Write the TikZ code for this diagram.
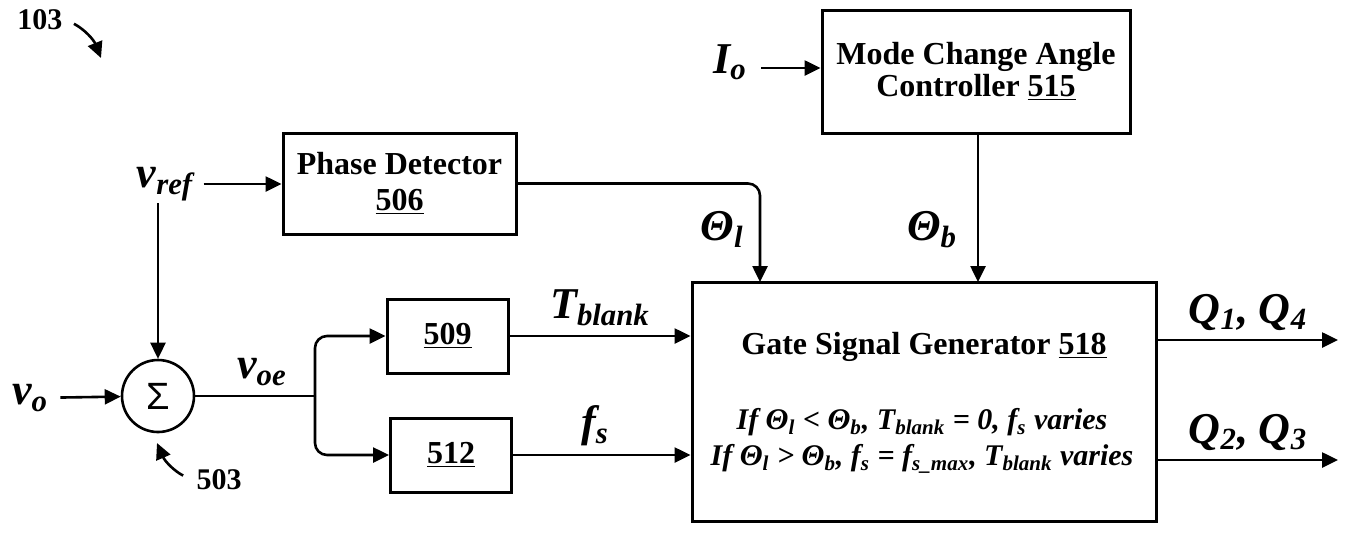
\documentclass[tikz,border=0pt]{standalone}
\usepackage{fontspec}
\setmainfont{Liberation Serif}
\newfontfamily\sigmafont{Liberation Sans}
\usetikzlibrary{arrows.meta, positioning}
\newcommand{\vsub}[2]{\textit{#1}\textsubscript{\textit{#2}}}

\begin{document}
\begin{tikzpicture}[
        x=0.5pt, y=-0.5pt,
        box/.style={rectangle, draw, line width=1.5pt, align=center, inner sep=0pt, font=\fontsize{16}{14}\selectfont\bfseries},
        sig/.style={inner sep=1pt, font=\fontsize{22}{26}\selectfont\bfseries\itshape},
        cond/.style={align=center, inner sep=0pt, font=\fontsize{15}{18}\selectfont\bfseries\itshape},
        tag/.style={inner sep=2pt, font=\fontsize{15}{16}\selectfont\bfseries},
        arr/.style={-{Triangle[length=8pt, width=7.5pt]}, line width=1.3pt}
        ]
        \useasboundingbox (0,0) rectangle (1348,532);
        \node[box, minimum width=154pt, minimum height=61.5pt]  (mode)  at (976,71.5) {Mode Change Angle\\Controller \underline{515}};
        \node[box, minimum width=116.5pt, minimum height=50.5pt, font=\fontsize{16}{18}\selectfont\bfseries] (phase) at (399.5,183.5) {Phase Detector\\\underline{506}};
        \node[box, minimum width=60.5pt, minimum height=37pt] (b509) at (447.5,336) {\underline{509}};
        \node[box, minimum width=60.5pt, minimum height=37pt] (b512) at (451,455) {\underline{512}};
        \node[box, minimum width=232pt, minimum height=119.5pt] (gate) at (924,401.5) {};
        \node[font=\fontsize{16}{18}\selectfont\bfseries, inner sep=0pt] (gtitle) at (924,347) {Gate Signal Generator \underline{518}};
        \node[cond] (grule) at (922,441) {If Θ\textsubscript{l} < Θ\textsubscript{b}, T\textsubscript{blank} = 0, f\textsubscript{s} varies\\If Θ\textsubscript{l} > Θ\textsubscript{b}, f\textsubscript{s} = f\textsubscript{s\_max}, T\textsubscript{blank} varies};
        \node[circle, draw, line width=1.3pt, minimum size=36pt, inner sep=0pt, font=\sigmafont\fontsize{19}{19}\selectfont] (sum) at (158,396) {Σ};

        \node[sig] (vo)   at (30,398)   {\vsub{v}{o}};
        \node[sig] (vref) at (165,184)  {\vsub{v}{ref}};
        \node[sig] (io)   at (730,62)   {\vsub{I}{o}};
        \node[sig] (lthl) at (722,229)  {\vsub{Θ}{l}};
        \node[sig] (lthb) at (932,230)  {\vsub{Θ}{b}};
        \node[sig] (ltb)  at (600,308)  {\vsub{T}{blank}};
        \node[sig] (lfs)  at (595,426)  {\vsub{f}{s}};
        \node[sig] (lvoe) at (262,372)  {\vsub{v}{oe}};
        \node[sig] (lq14) at (1248,312) {\vsub{Q}{1}, \vsub{Q}{4}};
        \node[sig] (lq23) at (1248,432) {\vsub{Q}{2}, \vsub{Q}{3}};
        \node[tag] (n103) at (40,20)    {103};
        \node[tag] (n503) at (219,480)  {503};

        \coordinate (thl)    at (760,282);
        \coordinate (thb)    at (978,282);
        \coordinate (split)  at (315,396);
        \coordinate (q14)    at (1338,340);
        \coordinate (q23)    at (1338,460);
        \coordinate (tip103) at (101,58);
        \coordinate (tip503) at (157,443);

        \draw[arr, shorten <=5pt] (vo) -- (sum);
        \draw[arr] (vref.south -| sum.north) -- (sum.north);
        \draw[arr, shorten <=4pt] (vref) -- (vref -| phase.west);
        \draw[arr, shorten <=6pt] ([yshift=-3pt]io.east) -- ([yshift=-3pt]io.east -| mode.west);
        \draw[arr, rounded corners=6pt] (phase.east) -| (thl);
        \draw[arr] (mode.south -| thb) -- (thb);
        \draw[line width=1.3pt] (sum.east) -- (split);
        \draw[arr, rounded corners=6pt] (split) |- (b509);
        \draw[arr, rounded corners=6pt] (split) |- (b512);
        \draw[arr] (b509) -- (b509 -| gate.west);
        \draw[arr] (b512) -- (b512 -| gate.west);
        \draw[arr] (gate.east |- q14) -- (q14);
        \draw[arr] (gate.east |- q23) -- (q23);
        \draw[arr, shorten <=4pt] (n103.east) to[bend left=20] (tip103);
        \draw[arr, shorten <=5pt] (n503.west) to[bend left=20] (tip503);
    \end{tikzpicture}
\end{document}
